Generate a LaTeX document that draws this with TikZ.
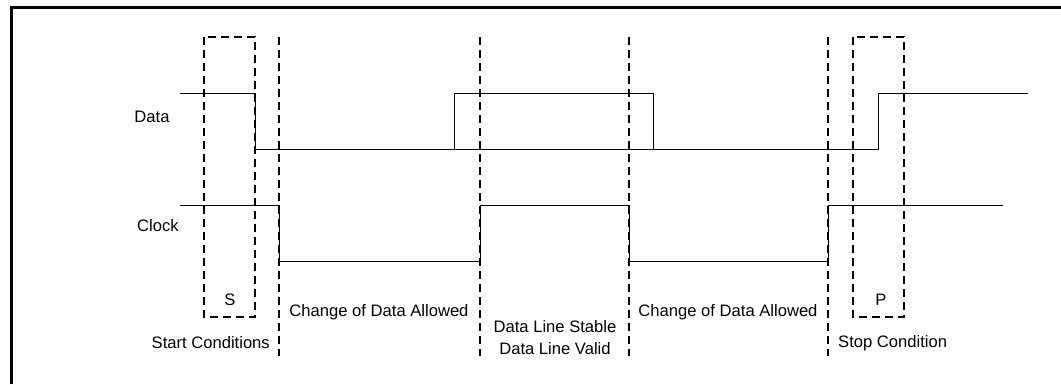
\documentclass[tikz,border=0pt]{standalone}
\usepackage{fontspec}
\setmainfont{Liberation Sans}
\begin{document}
\begin{tikzpicture}[x=1pt,y=-1pt,
  sig/.style={line width=1pt,line join=miter},
  guide/.style={line width=2pt,dash pattern=on 8pt off 5pt},
  condbox/.style={line width=2pt,dash pattern=on 8pt off 5pt},
  lbl/.style={font=\fontsize{16.6}{19.5}\selectfont,inner sep=0pt,align=center}]
\useasboundingbox (0,0) rectangle (1061,384);
% frame
\draw[line width=3pt] (11,384) -- (11,7) -- (1061,7);
% condition boxes
\draw[condbox] (204,37) rectangle (255,317);
\draw[condbox] (853,37) rectangle (904,317);
% guide lines
\foreach \x in {279,480,629,828} \draw[guide] (\x,37) -- (\x,356);
% data line
\draw[sig] (180,93) -- (255,93) -- (255,149) -- (878,149) -- (878,93) -- (1028,93);
\draw[sig] (454,149) -- (454,93) -- (653,93) -- (653,149);
% clock line
\draw[sig] (180,205) -- (279,205) -- (279,261) -- (480,261) -- (480,205) -- (629,205)
  -- (629,261) -- (828,261) -- (828,205) -- (1003,205);
% labels
\node[lbl] (data) at (152,117) {Data};
\node[lbl] (clock) at (158,226) {Clock};
\node[lbl] (s) at (230,300) {S};
\node[lbl] (p) at (881,300) {P};
\node[lbl,anchor=east] (start) at (270,343) {Start Conditions};
\node[lbl] (chg1) at (379,312) {Change of Data Allowed};
\node[lbl] (stable) at (555,327) {Data Line Stable};
\node[lbl] (valid) at (555,349) {Data Line Valid};
\node[lbl] (chg2) at (728,312) {Change of Data Allowed};
\node[lbl,anchor=west] (stop) at (838,343) {Stop Condition};
\end{tikzpicture}
\end{document}
